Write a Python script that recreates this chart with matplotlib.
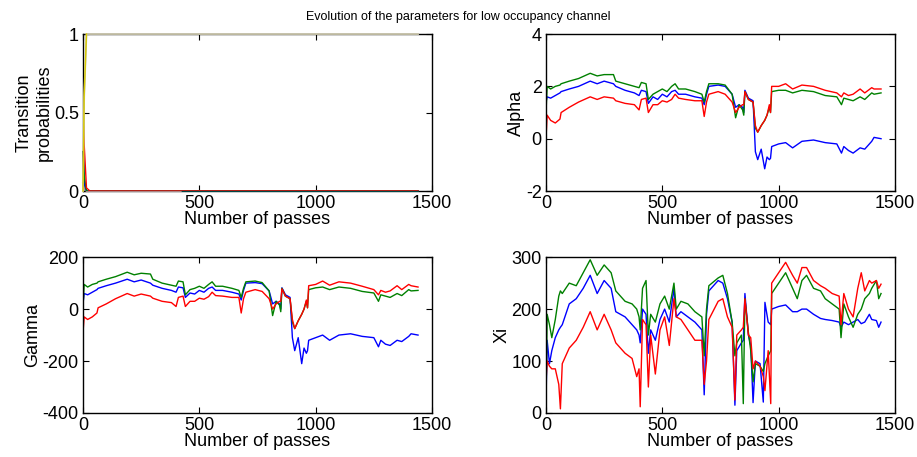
import matplotlib
matplotlib.use("Agg")
import matplotlib.pyplot as plt

plt.rcParams['font.family'] = ['Liberation Sans', 'DejaVu Sans']
plt.rcParams['axes.unicode_minus'] = False

# ---- transition probabilities (top left) ----
tp_passes = [0, 5, 15, 30, 420, 1440]
tp_stay = [0.0, 0.6, 1.0, 1.0, 1.0, 1.0]
tp_red = [0.52, 0.30, 0.02, 0.0, 0.0, 0.0]
tp_green = [0.30, 0.10, 0.0, 0.0, 0.0, 0.0]
tp_blue = [0.33, 0.05, 0.0, 0.0, 0.0, 0.0]
tp_teal = [0.25, 0.05, 0.0, 0.0, 0.0, 0.0]
tp_brown = [0.05, 0.02, 0.0, 0.0, 0.0]

# ---- Alpha / Gamma (top right, bottom left) ----
ag_passes = [0, 5, 20, 40, 60, 65, 100, 140, 190, 220, 250, 290, 300, 340, 380,
             400, 410, 430, 440, 460, 480, 500, 520, 540, 555, 570, 600, 640,
             670, 680, 690, 700, 740, 770, 800, 815, 830, 845, 850, 855, 870,
             890, 900, 910, 925, 940, 950, 960, 965, 970, 1000, 1030, 1060,
             1100, 1150, 1200, 1250, 1270, 1280, 1300, 1320, 1350, 1370, 1400,
             1410, 1440]
alpha_green = [1.0, 2.0, 1.9, 2.0, 2.05, 2.1, 2.2, 2.3, 2.5, 2.4, 2.45, 2.45, 2.2,
               2.1, 2.0, 1.95, 2.15, 2.1, 1.5, 1.7, 1.8, 1.9, 1.8, 2.0, 2.1, 1.9,
               1.9, 1.8, 1.7, 1.4, 1.8, 2.1, 2.1, 2.05, 1.7, 0.8, 1.3, 1.1, 0.9,
               1.8, 1.5, 1.4, 0.4, 0.25, 0.5, 0.7, 0.9, 1.2, 1.0, 1.8, 1.85, 1.85,
               1.75, 1.85, 1.8, 1.65, 1.6, 1.3, 1.55, 1.5, 1.45, 1.6, 1.5, 1.75,
               1.7, 1.75]
alpha_blue = [1.4, 1.6, 1.55, 1.65, 1.75, 1.8, 1.9, 2.0, 2.2, 2.1, 2.2, 2.1, 2.0,
              1.85, 1.75, 1.65, 1.85, 1.8, 1.35, 1.6, 1.5, 1.7, 1.6, 1.8, 1.85,
              1.7, 1.7, 1.6, 1.55, 1.3, 1.7, 2.0, 2.05, 2.0, 1.7, 1.2, 1.3, 1.2,
              1.0, 1.85, 1.55, 1.45, -0.5, -0.8, -0.4, -1.15, -0.7, -0.8, -0.75,
              -0.3, -0.2, -0.15, -0.35, -0.1, -0.05, -0.15, -0.2, -0.55, -0.3,
              -0.45, -0.55, -0.35, -0.4, -0.1, 0.05, 0.0]
alpha_red = [0.0, 0.9, 0.7, 0.6, 0.75, 1.0, 1.2, 1.4, 1.6, 1.5, 1.6, 1.55, 1.45,
             1.35, 1.3, 1.1, 1.5, 1.55, 1.0, 1.3, 1.3, 1.45, 1.4, 1.5, 1.7, 1.55,
             1.5, 1.45, 1.45, 0.85, 1.4, 1.7, 1.8, 1.7, 1.4, 1.0, 1.2, 1.3, 1.3,
             1.8, 1.5, 1.4, 0.5, 0.25, 0.5, 0.7, 0.9, 1.3, 1.0, 2.0, 2.0, 2.1,
             1.9, 2.05, 2.0, 1.85, 1.75, 1.6, 1.75, 1.65, 1.7, 1.9, 1.75, 1.95,
             1.9, 1.9]
gamma_green = [10, 95, 85, 95, 100, 105, 115, 125, 142, 132, 138, 135, 115, 100,
               92, 88, 108, 105, 55, 75, 80, 88, 80, 95, 105, 88, 88, 80, 72, 45,
               80, 105, 108, 102, 70, -25, 30, 15, -10, 80, 50, 40, -50, -75, -45,
               -20, 0, 30, 5, 75, 82, 85, 75, 85, 80, 68, 62, 30, 55, 50, 45, 60,
               52, 75, 70, 72]
gamma_blue = [20, 60, 55, 65, 75, 80, 90, 100, 115, 105, 112, 100, 92, 80, 72,
              65, 85, 82, 45, 62, 58, 72, 65, 80, 85, 72, 72, 65, 58, 35, 72, 100,
              102, 98, 70, 20, 30, 20, 0, 82, 55, 45, -110, -160, -110, -210,
              -150, -170, -160, -120, -110, -100, -120, -100, -95, -105, -110,
              -145, -120, -135, -140, -120, -125, -105, -95, -100]
gamma_red = [-90, -30, -40, -30, -15, 5, 20, 40, 60, 50, 58, 50, 42, 30, 25, 10,
             45, 50, 10, 30, 30, 42, 38, 48, 65, 52, 50, 45, 45, -15, 40, 65, 75,
             68, 40, 0, 20, 30, 30, 78, 50, 40, -40, -75, -45, -20, 0, 35, 5, 90,
             95, 108, 92, 105, 100, 88, 75, 55, 72, 65, 70, 90, 75, 95, 90, 85]

# ---- Xi (bottom right) ----
xi_passes = [0, 5, 15, 25, 40, 55, 62, 70, 100, 130, 160, 190, 220, 250, 280,
             300, 340, 370, 390, 400, 405, 415, 430, 440, 450, 470, 490, 510,
             530, 550, 560, 580, 610, 640, 670, 680, 690, 700, 740, 760, 780,
             800, 812, 820, 840, 848, 855, 870, 880, 890, 900, 920, 934, 941,
             955, 966, 970, 1000, 1030, 1060, 1080, 1100, 1120, 1150, 1180,
             1200, 1230, 1260, 1268, 1280, 1300, 1320, 1340, 1355, 1370, 1390,
             1400, 1420, 1430, 1440]
xi_green = [15, 190, 170, 145, 180, 225, 235, 230, 250, 245, 270, 295, 265, 285,
            270, 235, 215, 210, 200, 185, 160, 240, 255, 150, 190, 175, 210, 225,
            200, 250, 200, 215, 210, 195, 185, 110, 200, 245, 260, 265, 230, 175,
            110, 135, 150, 18, 220, 155, 120, 60, 95, 90, 80, 95, 110, 120, 230,
            250, 270, 240, 220, 255, 265, 240, 235, 220, 210, 200, 145, 210, 185,
            165, 190, 200, 220, 230, 240, 255, 220, 230]
xi_blue = [20, 140, 95, 120, 145, 160, 165, 170, 210, 220, 240, 265, 230, 255,
           240, 195, 185, 170, 160, 150, 135, 200, 190, 115, 160, 140, 180, 200,
           175, 240, 185, 195, 185, 175, 160, 35, 190, 235, 255, 250, 220, 175,
           15, 120, 135, 140, 230, 150, 130, 20, 100, 95, 21, 213, 175, 170, 200,
           205, 208, 195, 195, 200, 200, 190, 182, 180, 178, 175, 165, 175, 170,
           175, 180, 172, 175, 190, 180, 178, 165, 175]
xi_red = [60, 100, 90, 85, 85, 55, 8, 95, 125, 140, 165, 195, 160, 190, 160, 135,
          115, 105, 70, 85, 12, 180, 170, 50, 150, 75, 160, 185, 130, 220, 185,
          180, 160, 140, 140, 55, 100, 180, 215, 220, 185, 165, 25, 150, 160,
          165, 220, 150, 145, 85, 100, 90, 70, 43, 120, 18, 250, 270, 290, 265,
          250, 280, 280, 255, 245, 240, 230, 225, 170, 230, 200, 185, 240, 270,
          235, 255, 250, 255, 240, 248]

BLUE = (0, 0, 1)
GREEN = (0, 0.5, 0)
RED = (1, 0, 0)
LW = 1.0
FS = 13


def style_axes(ax, yticks, ylabel):
    ax.set_xlim(0, 1500)
    ax.set_ylim(yticks[0], yticks[-1])
    ax.set_xticks([0, 500, 1000, 1500])
    ax.set_yticks(yticks)
    ax.tick_params(direction='in', top=True, right=True, length=4,
                   labelsize=FS)
    ax.tick_params(axis='x', pad=3)
    ax.tick_params(axis='y', pad=3)
    ax.set_xlabel("Number of passes", fontsize=FS, labelpad=-1)
    ax.set_ylabel(ylabel, fontsize=FS, labelpad=1)
    for s in ax.spines.values():
        s.set_linewidth(1.0)


fig = plt.figure(figsize=(9.17, 4.57), dpi=100)
ax_tp = fig.add_axes([0.0905, 0.582, 0.3806, 0.3435])
ax_al = fig.add_axes([0.5954, 0.582, 0.3806, 0.3435])
ax_ga = fig.add_axes([0.0905, 0.0963, 0.3806, 0.341])
ax_xi = fig.add_axes([0.5954, 0.0963, 0.3806, 0.341])

# transition probabilities: the flat lines sit on the frame, so draw them above it
ax_tp.plot(tp_passes, tp_teal, color=(0.0, 0.3, 0.3), lw=1.3, zorder=3, clip_on=False)
ax_tp.plot(tp_passes[:5], tp_brown, color=(0.72, 0.55, 0.55), lw=1.3, zorder=3, clip_on=False)
ax_tp.plot(tp_passes, tp_blue, color=BLUE, lw=LW, zorder=3)
ax_tp.plot(tp_passes, tp_green, color=GREEN, lw=LW, zorder=3)
ax_tp.plot(tp_passes, tp_red, color=RED, lw=LW, zorder=3)
ax_tp.plot(tp_passes, tp_stay, color=(0.78, 0.76, 0.66), lw=1.3, zorder=3, clip_on=False)
ax_tp.plot(tp_passes[:3], tp_stay[:3], color=(0.85, 0.8, 0.0), lw=LW, zorder=3, clip_on=False)
style_axes(ax_tp, [0, 0.5, 1], "Transition\nprobabilities")
ax_tp.set_yticklabels(["0", "0.5", "1"])

for ax, g, b, r, yt, lab in [
        (ax_al, alpha_green, alpha_blue, alpha_red, [-2, 0, 2, 4], "Alpha"),
        (ax_ga, gamma_green, gamma_blue, gamma_red, [-400, -200, 0, 200], "Gamma")]:
    ax.plot(ag_passes, b, color=BLUE, lw=LW)
    ax.plot(ag_passes, g, color=GREEN, lw=LW)
    ax.plot(ag_passes, r, color=RED, lw=LW)
    style_axes(ax, yt, lab)

ax_xi.plot(xi_passes, xi_blue, color=BLUE, lw=LW)
ax_xi.plot(xi_passes, xi_green, color=GREEN, lw=LW)
ax_xi.plot(xi_passes, xi_red, color=RED, lw=LW)
style_axes(ax_xi, [0, 100, 200, 300], "Xi")

fig.text(0.5, 0.962, "Evolution of the parameters for low occupancy channel",
         ha='center', va='center', fontsize=9)

fig.savefig("out.png", dpi=100)
